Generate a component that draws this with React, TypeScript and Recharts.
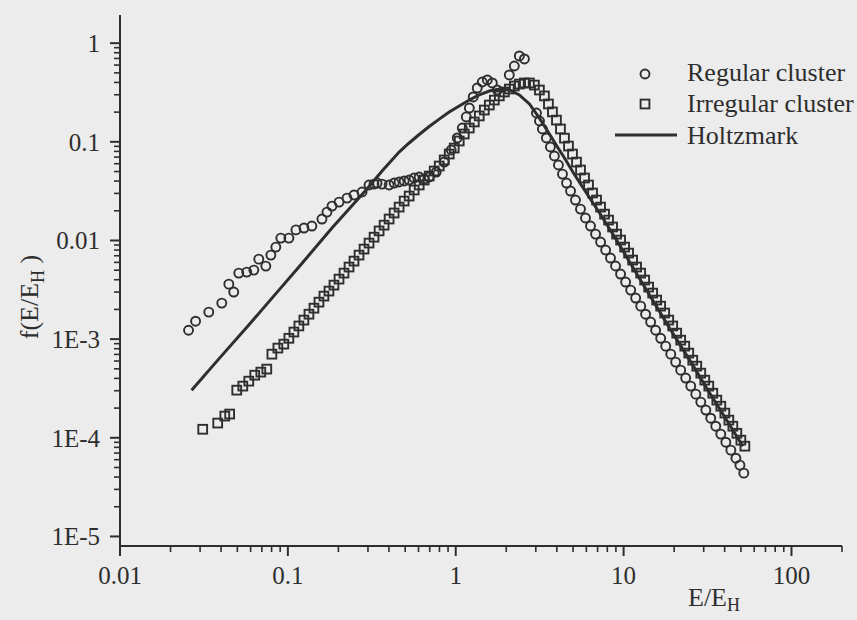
import React from 'react';
import { ComposedChart, Scatter, XAxis, YAxis, Legend } from 'recharts';

const INK = '#2e2e2e';
const PAPER = '#ececec';
const FONT = '"Liberation Serif", "Times New Roman", serif';

// Regular cluster (circles)
const regularE = [
  0.0256, 0.0282, 0.0338, 0.0404, 0.0445, 0.0476, 0.051, 0.0569, 0.0627, 0.0671, 0.0739, 0.0792, 0.0848, 0.0908,
  0.1014, 0.1117, 0.1247, 0.139, 0.1596, 0.171, 0.1832, 0.2018, 0.2251, 0.2477, 0.2767, 0.3045, 0.326, 0.3398,
  0.3641, 0.401, 0.43, 0.46, 0.493, 0.528, 0.565, 0.606, 0.649, 0.695, 0.765, 0.854, 0.94, 1.021, 1.094, 1.156,
  1.205, 1.271, 1.343, 1.439, 1.542, 1.652, 1.77, 2.085, 2.234, 2.393, 2.565,
  3.026, 3.155, 3.283, 3.467, 3.664, 3.871, 4.091, 4.325, 4.571, 4.831, 5.168, 5.534, 5.929, 6.353, 6.808, 7.295,
  7.816, 8.356, 8.954, 9.594, 10.28, 11.02, 11.8, 12.65, 13.52, 14.49, 15.52, 16.63, 17.82, 19.1, 20.42, 21.88,
  23.44, 25.12, 26.92, 28.84, 30.9, 33.04, 35.4, 37.93, 40.64, 43.55, 46.67, 49.32, 52.0,
];
const regularF = [
  0.00123, 0.00152, 0.00188, 0.00232, 0.00361, 0.003, 0.00467, 0.00478, 0.00501, 0.00647, 0.0055, 0.00711, 0.00857,
  0.01057, 0.01057, 0.0128, 0.01336, 0.014, 0.0165, 0.0194, 0.0223, 0.0245, 0.0269, 0.0289, 0.031, 0.0365, 0.0373,
  0.0382, 0.0373, 0.0365, 0.0382, 0.0392, 0.0401, 0.041, 0.043, 0.044, 0.042, 0.044, 0.0494, 0.0624, 0.0826, 0.1094,
  0.138, 0.179, 0.22, 0.285, 0.351, 0.404, 0.424, 0.395, 0.335, 0.476, 0.587, 0.742, 0.692,
  0.196, 0.1626, 0.1349, 0.1094, 0.0886, 0.0718, 0.0582, 0.0471, 0.0382, 0.0317, 0.0257, 0.0208, 0.0169, 0.014,
  0.0116, 0.00964, 0.008, 0.00664, 0.00551, 0.00457, 0.00379, 0.00314, 0.00261, 0.00216, 0.00179, 0.00149, 0.00123,
  0.00102, 0.000849, 0.000704, 0.000585, 0.000485, 0.000403, 0.000334, 0.000277, 0.00023, 0.000191, 0.000158,
  0.000131, 0.000109, 9.02e-5, 7.49e-5, 6.21e-5, 5.28e-5, 4.38e-5,
];

// Irregular cluster (squares)
const irregularE = [
  0.0311, 0.0382, 0.0421, 0.045, 0.0496, 0.0539, 0.0585, 0.0635, 0.069, 0.0749, 0.0803, 0.0872, 0.0946, 0.1014,
  0.1086, 0.1163, 0.1246, 0.1335, 0.143, 0.1532, 0.164, 0.1757, 0.1882, 0.2017, 0.216, 0.2314, 0.2477, 0.2654,
  0.2843, 0.3045, 0.3262, 0.3495, 0.3744, 0.4009, 0.4295, 0.46, 0.4928, 0.5279, 0.5654, 0.6057, 0.6487, 0.6949,
  0.7443, 0.7973, 0.8539, 0.9146, 0.9795, 1.049, 1.124, 1.204, 1.29, 1.381, 1.48, 1.585, 1.698, 1.818, 1.948,
  2.086, 2.235, 2.394, 2.564, 2.747, 2.942, 3.151, 3.376, 3.566, 3.768, 3.981, 4.206,
  4.444, 4.695, 4.961, 5.241, 5.537, 5.851, 6.18, 6.53, 6.9, 7.29, 7.702, 8.137, 8.597, 9.083, 9.596, 10.14,
  10.71, 11.32, 11.95, 12.64, 13.35, 14.1, 14.9, 15.74, 16.63, 17.57, 18.57, 19.61, 20.72, 21.89, 23.13, 24.44,
  25.82, 27.28, 28.82, 30.45, 32.17, 33.98, 35.91, 37.94, 40.09, 42.36, 44.75, 47.28, 49.95, 52.77,
];
const irregularF = [
  1.22e-4, 1.41e-4, 1.66e-4, 1.74e-4, 3.04e-4, 3.34e-4, 3.75e-4, 4.31e-4, 4.63e-4, 4.97e-4, 7.04e-4, 8.11e-4,
  8.9e-4, 1.02e-3, 1.18e-3, 1.36e-3, 1.56e-3, 1.79e-3, 2.06e-3, 2.37e-3, 2.73e-3, 3.07e-3, 3.53e-3, 4.06e-3,
  4.67e-3, 5.38e-3, 6.18e-3, 7.11e-3, 8.18e-3, 9.41e-3, 0.0108, 0.0125, 0.0143, 0.0165, 0.019, 0.0218, 0.0251,
  0.0282, 0.0325, 0.0365, 0.041, 0.045, 0.0506, 0.0569, 0.0655, 0.0752, 0.0865, 0.102, 0.12, 0.138, 0.159, 0.183,
  0.21, 0.236, 0.265, 0.292, 0.32, 0.343, 0.368, 0.385, 0.395, 0.395, 0.376, 0.335, 0.292, 0.242, 0.201, 0.166,
  0.135,
  0.109, 0.0906, 0.0752, 0.0623, 0.0518, 0.043, 0.0365, 0.0303, 0.0257, 0.0218, 0.0185, 0.0161, 0.0137, 0.0116,
  0.0101, 0.00857, 0.00745, 0.00633, 0.00538, 0.00467, 0.00397, 0.00337, 0.00293, 0.00249, 0.00216, 0.00184,
  0.00156, 0.00136, 0.00115, 0.000977, 0.000849, 0.000722, 0.000612, 0.000532, 0.000452, 0.000384, 0.000334,
  0.000283, 0.000241, 0.000209, 0.000178, 0.000151, 0.000131, 0.000111, 9.46e-5, 8.22e-5,
];

// Holtzmark distribution (solid line)
const holtzE = [
  0.0267, 0.0387, 0.0585, 0.0884, 0.1163, 0.1831, 0.2314, 0.2923, 0.3641, 0.46, 0.5279, 0.6057, 0.6949, 0.7973,
  0.9146, 1.049, 1.204, 1.381, 1.585, 1.818, 2.086, 2.394, 2.747, 3.151, 3.615, 4.036, 4.444, 5.029, 5.692, 7.19,
  9.083, 11.32, 14.3, 18.82, 24.77, 32.62, 42.95, 51.33,
];
const holtzF = [
  3.04e-4, 6.27e-4, 1.39e-3, 3.14e-3, 5.38e-3, 0.0134, 0.0208, 0.0325, 0.0506, 0.0788, 0.0973, 0.1186, 0.1429,
  0.17, 0.2005, 0.2307, 0.2654, 0.2985, 0.3274, 0.3427, 0.335, 0.2985, 0.242, 0.174, 0.12, 0.0886, 0.0685, 0.0483,
  0.0348, 0.019, 0.0101, 5.38e-3, 2.79e-3, 1.29e-3, 6.12e-4, 2.83e-4, 1.34e-4, 8.22e-5,
];

const xMajorTicks = [0.01, 0.1, 1, 10, 100];
const xMajorLabels = ['0.01', '0.1', '1', '10', '100'];
const yMajorTicks = [1e-5, 1e-4, 1e-3, 0.01, 0.1, 1];
const yMajorLabels = ['1E-5', '1E-4', '1E-3', '0.01', '0.1', '1'];
const minorSteps = [2, 3, 4, 5, 6, 7, 8, 9];

const xDomain: [number, number] = [0.01, 200];
const yDomain: [number, number] = [8e-6, 1.93];

const withMinor = (majors: number[], dom: [number, number]) => {
  const out: number[] = [];
  majors.forEach((m) => {
    out.push(m);
    minorSteps.forEach((s) => {
      const v = m * s;
      if (v >= dom[0] && v <= dom[1]) out.push(v);
    });
  });
  return out.sort((a, b) => a - b);
};
const xTicks = withMinor(xMajorTicks, xDomain);
const yTicks = withMinor(yMajorTicks, yDomain);

const zip = (es: number[], fs: number[]) => es.map((E, i) => ({ E, f: fs[i] }));
const regularData = zip(regularE, regularF);
const irregularData = zip(irregularE, irregularF);
const holtzData = zip(holtzE, holtzF);

const majorIndex = (arr: number[], v: number) => arr.findIndex((t) => Math.abs(t - v) / t < 1e-6);

const XTick = (p: any) => {
  const { x, y, payload } = p;
  const i = majorIndex(xMajorTicks, payload.value);
  const major = i >= 0;
  return (
    <g>
      <line x1={x} x2={x} y1={y} y2={y + (major ? 10 : 6)} stroke={INK} strokeWidth={major ? 2 : 1.6} />
      {major && (
        <text x={x} y={y + 38} textAnchor="middle" fontFamily={FONT} fontSize={25} fill={INK}>
          {xMajorLabels[i]}
        </text>
      )}
    </g>
  );
};

const YTick = (p: any) => {
  const { x, y, payload } = p;
  const i = majorIndex(yMajorTicks, payload.value);
  const major = i >= 0;
  return (
    <g>
      <line x1={x} x2={x - (major ? 10 : 6)} y1={y} y2={y} stroke={INK} strokeWidth={major ? 2 : 1.6} />
      {major && (
        <text x={x - 20} y={y + 9} textAnchor="end" fontFamily={FONT} fontSize={25} fill={INK}>
          {yMajorLabels[i]}
        </text>
      )}
    </g>
  );
};

const XLabel = () => (
  <text x={688} y={606} fontFamily={FONT} fontSize={26} fill={INK}>
    E/E
    <tspan fontSize={18} dy={5}>H</tspan>
  </text>
);

const YLabel = () => (
  <text
    x={38}
    y={297}
    transform="rotate(-90, 38, 297)"
    textAnchor="middle"
    fontFamily={FONT}
    fontSize={26}
    fill={INK}
  >
    f(E/E
    <tspan fontSize={18} dy={6}>H</tspan>
    <tspan dy={-6}> )</tspan>
  </text>
);

const CircleMark = (p: any) => (
  <circle cx={p.cx} cy={p.cy} r={4.5} fill="none" stroke={INK} strokeWidth={1.9} />
);
const SquareMark = (p: any) => (
  <rect x={p.cx - 4.4} y={p.cy - 4.4} width={8.8} height={8.8} fill="none" stroke={INK} strokeWidth={1.9} />
);
const NoMark = () => <g />;

const LegendBox = () => (
  <svg width={857} height={620} style={{ position: 'absolute', left: 0, top: 0 }}>
    <circle cx={645} cy={74} r={4.5} fill="none" stroke={INK} strokeWidth={1.9} />
    <rect x={640.6} y={99.6} width={8.8} height={8.8} fill="none" stroke={INK} strokeWidth={1.9} />
    <line x1={615} x2={677} y1={135} y2={135} stroke={INK} strokeWidth={3} />
    <text x={687} y={81} fontFamily={FONT} fontSize={26} fill={INK}>Regular cluster</text>
    <text x={687} y={112} fontFamily={FONT} fontSize={26} fill={INK}>Irregular cluster</text>
    <text x={687} y={144} fontFamily={FONT} fontSize={26} fill={INK}>Holtzmark</text>
  </svg>
);

export default function App() {
  return (
    <div style={{ position: 'fixed', left: 0, top: 0, width: 857, height: 620, background: PAPER, overflow: 'hidden' }}>
      <ComposedChart width={857} height={620} margin={{ top: 15, right: 15, bottom: 0, left: 0 }}>
        <XAxis
          type="number"
          dataKey="E"
          scale="log"
          domain={xDomain}
          allowDataOverflow
          ticks={xTicks}
          interval={0}
          tickSize={0}
          tickMargin={0}
          tickLine={false}
          tick={(p: any) => <XTick {...p} />}
          axisLine={{ stroke: INK, strokeWidth: 2 }}
          height={74}
          label={<XLabel />}
        />
        <YAxis
          type="number"
          dataKey="f"
          scale="log"
          domain={yDomain}
          allowDataOverflow
          ticks={yTicks}
          interval={0}
          tickSize={0}
          tickMargin={0}
          tickLine={false}
          tick={(p: any) => <YTick {...p} />}
          axisLine={{ stroke: INK, strokeWidth: 2 }}
          width={120}
          label={<YLabel />}
        />
        <Scatter name="Regular cluster" data={regularData} shape={CircleMark} isAnimationActive={false} />
        <Scatter name="Irregular cluster" data={irregularData} shape={SquareMark} isAnimationActive={false} />
        <Scatter
          name="Holtzmark"
          data={holtzData}
          shape={NoMark}
          line={{ stroke: INK, strokeWidth: 3 }}
          lineType="joint"
          isAnimationActive={false}
        />
        <Legend
          layout="vertical"
          align="center"
          verticalAlign="middle"
          wrapperStyle={{ position: 'absolute', left: 0, top: 0, width: 857, height: 620, pointerEvents: 'none' }}
          content={() => <LegendBox />}
        />
      </ComposedChart>
    </div>
  );
}
